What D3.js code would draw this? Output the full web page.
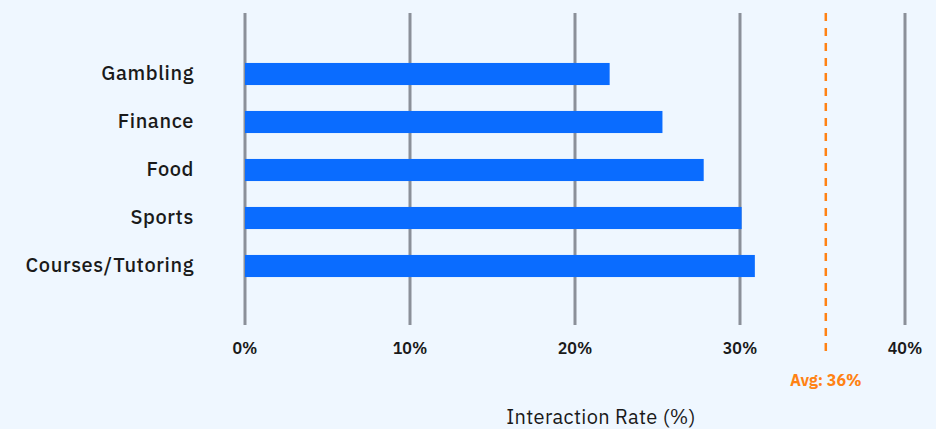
<!DOCTYPE html>
<html>
<head>
<meta charset="utf-8">
<script src="https://cdn.jsdelivr.net/npm/d3@7"></script>
<style>
  body { margin: 0; background: #eff7ff; }
  svg { display: block; font-family: "IBM Plex Sans", "Noto Sans", sans-serif; }
</style>
</head>
<body>
<div id="chart"></div>
<script>
const categories = ['Gambling', 'Finance', 'Food', 'Sports', 'Courses/Tutoring'];
const rates = [22.1, 25.3, 27.8, 30.1, 30.9];
const tickValues = [0, 10, 20, 30, 40];
const avgRate = 35.2;
const avgLabel = 'Avg: 36%';

const width = 936;
const height = 429;

const svg = d3.select('#chart')
  .append('svg')
  .attr('width', width)
  .attr('height', height);

svg.append('rect')
  .attr('width', width)
  .attr('height', height)
  .attr('fill', '#eff7ff');

const x = d3.scaleLinear()
  .domain([0, 40])
  .range([245, 905]);

const y = d3.scaleBand()
  .domain(categories)
  .range([50, 290])
  .paddingInner(0.54)
  .paddingOuter(0.27);

// grid lines
svg.append('g')
  .selectAll('line')
  .data(tickValues)
  .enter()
  .append('line')
  .attr('x1', d => x(d))
  .attr('x2', d => x(d))
  .attr('y1', 13)
  .attr('y2', 325)
  .attr('stroke', '#8b9099')
  .attr('stroke-width', 3);

// bars
svg.append('g')
  .selectAll('rect')
  .data(rates)
  .enter()
  .append('rect')
  .attr('x', x(0))
  .attr('y', (d, i) => y(categories[i]))
  .attr('width', d => x(d) - x(0))
  .attr('height', y.bandwidth())
  .attr('fill', '#0a6cff');

// category labels
svg.append('g')
  .selectAll('text')
  .data(categories)
  .enter()
  .append('text')
  .attr('x', 194)
  .attr('y', d => y(d) + y.bandwidth() / 2 + 6)
  .attr('text-anchor', 'end')
  .attr('font-size', 20)
  .attr('font-weight', 500)
  .attr('letter-spacing', 0.6)
  .attr('fill', '#1a1a1a')
  .text(d => d);

// tick labels
svg.append('g')
  .selectAll('text')
  .data(tickValues)
  .enter()
  .append('text')
  .attr('x', d => x(d))
  .attr('y', 354)
  .attr('text-anchor', 'middle')
  .attr('font-size', 16)
  .attr('font-weight', 600)
  .attr('fill', '#1a1a1a')
  .text(d => d + '%');

// average line
svg.append('line')
  .attr('x1', x(avgRate))
  .attr('x2', x(avgRate))
  .attr('y1', 13)
  .attr('y2', 358)
  .attr('stroke', '#ff8214')
  .attr('stroke-width', 2.5)
  .attr('stroke-dasharray', '8,7');

svg.append('text')
  .attr('x', x(avgRate))
  .attr('y', 386)
  .attr('text-anchor', 'middle')
  .attr('font-size', 16)
  .attr('font-weight', 700)
  .attr('fill', '#ff8214')
  .text(avgLabel);

// axis title
svg.append('text')
  .attr('x', 601)
  .attr('y', 424)
  .attr('text-anchor', 'middle')
  .attr('font-size', 20)
  .attr('letter-spacing', 0.35)
  .attr('fill', '#1a1a1a')
  .text('Interaction Rate (%)');
</script>
</body>
</html>
